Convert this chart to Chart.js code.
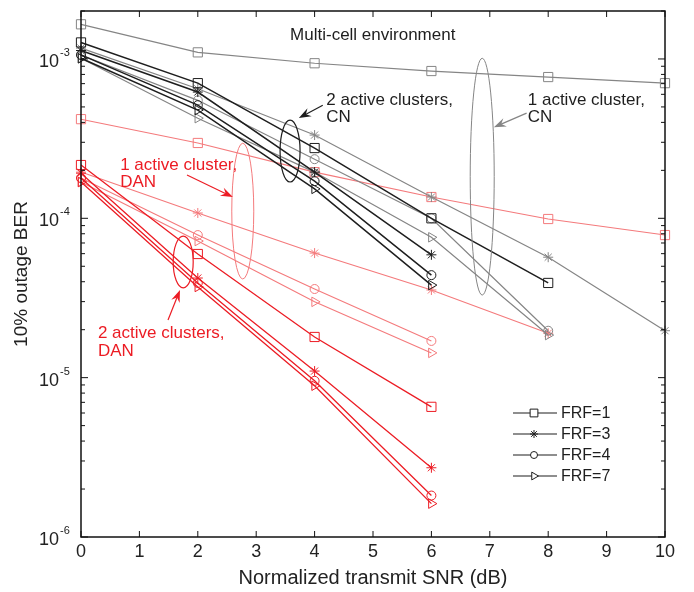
<!DOCTYPE html>
<html>
<head>
<meta charset="utf-8">
<script src="https://cdn.jsdelivr.net/npm/chart.js@4.4.1/dist/chart.umd.min.js"></script>
<style>
html,body{margin:0;padding:0;background:#fff;}
canvas{display:block;}
</style>
</head>
<body>
<canvas id="berChart" width="694" height="592"></canvas>
<script>
// SNR points (dB)
const snr = [0, 2, 4, 6, 8, 10];
const xTicks = [0, 1, 2, 3, 4, 5, 6, 7, 8, 9, 10];
const yDecades = [-6, -5, -4, -3];
const frfLabels = ['FRF=1', 'FRF=3', 'FRF=4', 'FRF=7'];

// 2 active clusters, CN (black)
const cn2Frf1 = [1.27e-3, 7.05e-4, 2.76e-4, 1.0e-4, 3.93e-5];
const cn2Frf3 = [1.13e-3, 6.2e-4, 1.95e-4, 5.9e-5];
const cn2Frf4 = [1.06e-3, 5.13e-4, 1.71e-4, 4.4e-5];
const cn2Frf7 = [1.01e-3, 4.78e-4, 1.53e-4, 3.81e-5];

// 1 active cluster, CN (gray)
const cn1Frf1 = [1.65e-3, 1.10e-3, 9.4e-4, 8.4e-4, 7.7e-4, 7.05e-4];
const cn1Frf3 = [1.17e-3, 6.5e-4, 3.33e-4, 1.36e-4, 5.7e-5, 1.97e-5];
const cn1Frf4 = [1.06e-3, 5.5e-4, 2.35e-4, 1.0e-4, 1.97e-5];
const cn1Frf7 = [1.01e-3, 4.25e-4, 1.95e-4, 7.6e-5, 1.85e-5];

// 2 active clusters, DAN (red)
const dan2Frf1 = [2.16e-4, 5.97e-5, 1.80e-5, 6.56e-6];
const dan2Frf3 = [1.92e-4, 4.22e-5, 1.10e-5, 2.72e-6];
const dan2Frf4 = [1.79e-4, 3.93e-5, 9.55e-6, 1.82e-6];
const dan2Frf7 = [1.69e-4, 3.71e-5, 8.9e-6, 1.62e-6];

// 1 active cluster, DAN (light red)
const dan1Frf1 = [4.19e-4, 2.97e-4, 1.95e-4, 1.36e-4, 9.9e-5, 7.85e-5];
const dan1Frf3 = [1.95e-4, 1.08e-4, 6.05e-5, 3.55e-5, 1.9e-5];
const dan1Frf4 = [1.79e-4, 7.85e-5, 3.6e-5, 1.70e-5];
const dan1Frf7 = [1.69e-4, 7.2e-5, 2.99e-5, 1.43e-5];

const BLACK = '#1e1e1e';
const GRAY = '#858585';
const RED = '#ec1c24';
const PINK = '#f47a7c';
const FONT = 'Arial, "Liberation Sans", Helvetica, sans-serif';

const markers = [
  {pointStyle: 'rect', radius: 6.5, rotation: 0},
  {pointStyle: 'star', radius: 5, rotation: 0},
  {pointStyle: 'circle', radius: 4.5, rotation: 0},
  {pointStyle: 'triangle', radius: 5.5, rotation: 90}
];

function series(values, frfIdx, color, width){
  const m = markers[frfIdx];
  return {
    label: frfLabels[frfIdx],
    data: values.map((v, i) => ({x: snr[i], y: v})),
    borderColor: color,
    borderWidth: width,
    backgroundColor: 'rgba(0,0,0,0)',
    pointBorderColor: color,
    pointBackgroundColor: 'rgba(0,0,0,0)',
    pointBorderWidth: 1,
    pointStyle: m.pointStyle,
    pointRadius: m.radius,
    pointRotation: m.rotation,
    tension: 0,
    clip: false
  };
}

const datasets = [
  series(cn2Frf1, 0, BLACK, 1.5), series(cn2Frf3, 1, BLACK, 1.5),
  series(cn2Frf4, 2, BLACK, 1.5), series(cn2Frf7, 3, BLACK, 1.5),
  series(cn1Frf1, 0, GRAY, 1.2), series(cn1Frf3, 1, GRAY, 1.2),
  series(cn1Frf4, 2, GRAY, 1.2), series(cn1Frf7, 3, GRAY, 1.2),
  series(dan2Frf1, 0, RED, 1.3), series(dan2Frf3, 1, RED, 1.3),
  series(dan2Frf4, 2, RED, 1.3), series(dan2Frf7, 3, RED, 1.3),
  series(dan1Frf1, 0, PINK, 1.1), series(dan1Frf3, 1, PINK, 1.1),
  series(dan1Frf4, 2, PINK, 1.1), series(dan1Frf7, 3, PINK, 1.1)
];

// annotations, in data units
const notes = [
  {text: 'Multi-cell environment', x: 3.58, y: 1.41e-3, color: BLACK},
  {text: '2 active clusters,', x: 4.2, y: 5.52e-4, color: BLACK},
  {text: 'CN', x: 4.2, y: 4.31e-4, color: BLACK},
  {text: '1 active cluster,', x: 7.65, y: 5.52e-4, color: BLACK},
  {text: 'CN', x: 7.65, y: 4.31e-4, color: BLACK},
  {text: '1 active cluster,', x: 0.67, y: 2.16e-4, color: RED},
  {text: 'DAN', x: 0.67, y: 1.69e-4, color: RED},
  {text: '2 active clusters,', x: 0.29, y: 1.91e-5, color: RED},
  {text: 'DAN', x: 0.29, y: 1.47e-5, color: RED}
];
const ellipses = [
  {x: 3.58, top: 4.13e-4, bottom: 1.69e-4, rx: 10, color: BLACK, w: 1.2},
  {x: 6.87, top: 1.01e-3, bottom: 3.3e-5, rx: 12, color: GRAY, w: 1},
  {x: 2.77, top: 2.96e-4, bottom: 4.16e-5, rx: 11, color: PINK, w: 1},
  {x: 1.75, top: 7.74e-5, bottom: 3.66e-5, rx: 10, color: RED, w: 1.2}
];
const arrows = [
  {x0: 4.14, y0: 5.13e-4, x1: 3.73, y1: 4.26e-4, color: BLACK},
  {x0: 7.63, y0: 4.57e-4, x1: 7.07, y1: 3.73e-4, color: GRAY},
  {x0: 1.815, y0: 1.87e-4, x1: 2.60, y1: 1.36e-4, color: RED},
  {x0: 1.49, y0: 2.3e-5, x1: 1.695, y1: 3.55e-5, color: RED}
];

const overlay = {
  id: 'overlay',
  afterDatasetsDraw(chart){
    const {ctx, chartArea: a, scales: {x, y}} = chart;
    const line = (x0, y0, x1, y1) => { ctx.beginPath(); ctx.moveTo(x0, y0); ctx.lineTo(x1, y1); ctx.stroke(); };
    ctx.save();

    // axes box + inward ticks
    ctx.strokeStyle = '#111';
    ctx.lineWidth = 1;
    xTicks.forEach(v => {
      const px = x.getPixelForValue(v);
      line(px, a.bottom, px, a.bottom - 6);
      line(px, a.top, px, a.top + 6);
    });
    yDecades.forEach(k => {
      for (let m = 1; m <= 9; m++){
        const v = m * Math.pow(10, k);
        if (v > y.max * 1.0001) break;
        const py = y.getPixelForValue(v);
        const len = m === 1 ? 7 : 4;
        line(a.left, py, a.left + len, py);
        line(a.right, py, a.right - len, py);
      }
    });
    ctx.lineWidth = 1.5;
    ctx.strokeRect(a.left, a.top, a.right - a.left, a.bottom - a.top);

    // y tick labels 10^k
    ctx.fillStyle = '#222';
    ctx.textBaseline = 'middle';
    yDecades.forEach(k => {
      const py = y.getPixelForValue(Math.pow(10, k));
      ctx.font = '18px ' + FONT;
      ctx.textAlign = 'right';
      ctx.fillText('10', a.left - 22, py + 3);
      ctx.font = '11px ' + FONT;
      ctx.textAlign = 'left';
      ctx.fillText(String(k), a.left - 21, py - 6);
    });

    // ellipses
    ellipses.forEach(e => {
      const cx = x.getPixelForValue(e.x);
      const t = y.getPixelForValue(e.top), b = y.getPixelForValue(e.bottom);
      ctx.strokeStyle = e.color;
      ctx.lineWidth = e.w;
      ctx.beginPath();
      ctx.ellipse(cx, (t + b) / 2, e.rx, (b - t) / 2, 0, 0, Math.PI * 2);
      ctx.stroke();
    });

    // arrows
    arrows.forEach(r => {
      const x0 = x.getPixelForValue(r.x0), y0 = y.getPixelForValue(r.y0);
      const x1 = x.getPixelForValue(r.x1), y1 = y.getPixelForValue(r.y1);
      const ang = Math.atan2(y1 - y0, x1 - x0);
      ctx.strokeStyle = r.color;
      ctx.fillStyle = r.color;
      ctx.lineWidth = 1.2;
      line(x0, y0, x1 - Math.cos(ang) * 6, y1 - Math.sin(ang) * 6);
      ctx.beginPath();
      ctx.moveTo(x1, y1);
      ctx.lineTo(x1 - Math.cos(ang - 0.35) * 13, y1 - Math.sin(ang - 0.35) * 13);
      ctx.lineTo(x1 - Math.cos(ang) * 8, y1 - Math.sin(ang) * 8);
      ctx.lineTo(x1 - Math.cos(ang + 0.35) * 13, y1 - Math.sin(ang + 0.35) * 13);
      ctx.closePath();
      ctx.fill();
    });

    // annotation text
    ctx.font = '17px ' + FONT;
    ctx.textAlign = 'left';
    ctx.textBaseline = 'middle';
    notes.forEach(n => {
      ctx.fillStyle = n.color;
      ctx.fillText(n.text, x.getPixelForValue(n.x), y.getPixelForValue(n.y));
    });

    // legend
    const lx = a.left + 432, ly = a.top + 402, dy = 21;
    frfLabels.forEach((lab, i) => {
      const yy = ly + i * dy;
      ctx.strokeStyle = BLACK;
      ctx.lineWidth = 1.2;
      line(lx, yy, lx + 44, yy);
      const m = markers[i];
      ctx.fillStyle = '#fff';
      ctx.strokeStyle = BLACK;
      ctx.lineWidth = 1;
      Chart.helpers.drawPoint(ctx, {
        pointStyle: m.pointStyle, radius: m.radius - 1, rotation: m.rotation, borderWidth: 1
      }, lx + 21, yy);
      ctx.fillStyle = BLACK;
      ctx.font = '16px ' + FONT;
      ctx.fillText(lab, lx + 48, yy + 1);
    });

    ctx.restore();
  }
};

new Chart(document.getElementById('berChart'), {
  type: 'line',
  data: {datasets: datasets},
  options: {
    responsive: false,
    animation: false,
    layout: {padding: {top: 11, right: 29, left: 0, bottom: 0}},
    plugins: {legend: {display: false}, tooltip: {enabled: false}},
    scales: {
      x: {
        type: 'linear', min: 0, max: 10,
        afterBuildTicks: s => { s.ticks = xTicks.map(v => ({value: v})); },
        ticks: {autoSkip: false, maxRotation: 0, padding: 4, color: '#222', font: {family: FONT, size: 18}},
        grid: {display: false, drawTicks: false},
        border: {display: false},
        title: {display: true, text: 'Normalized transmit SNR (dB)', color: '#222',
          font: {family: FONT, size: 20}, padding: {top: 0, bottom: 2}},
        afterFit: s => { s.height = 55; }
      },
      y: {
        type: 'logarithmic', min: 1e-6, max: 2e-3,
        ticks: {callback: () => ''},
        grid: {display: false, drawTicks: false},
        border: {display: false},
        title: {display: true, text: '10% outage BER', color: '#222',
          font: {family: FONT, size: 19}, padding: {top: 10, bottom: 0}},
        afterFit: s => { s.width = 81; }
      }
    }
  },
  plugins: [overlay]
});
</script>
</body>
</html>
